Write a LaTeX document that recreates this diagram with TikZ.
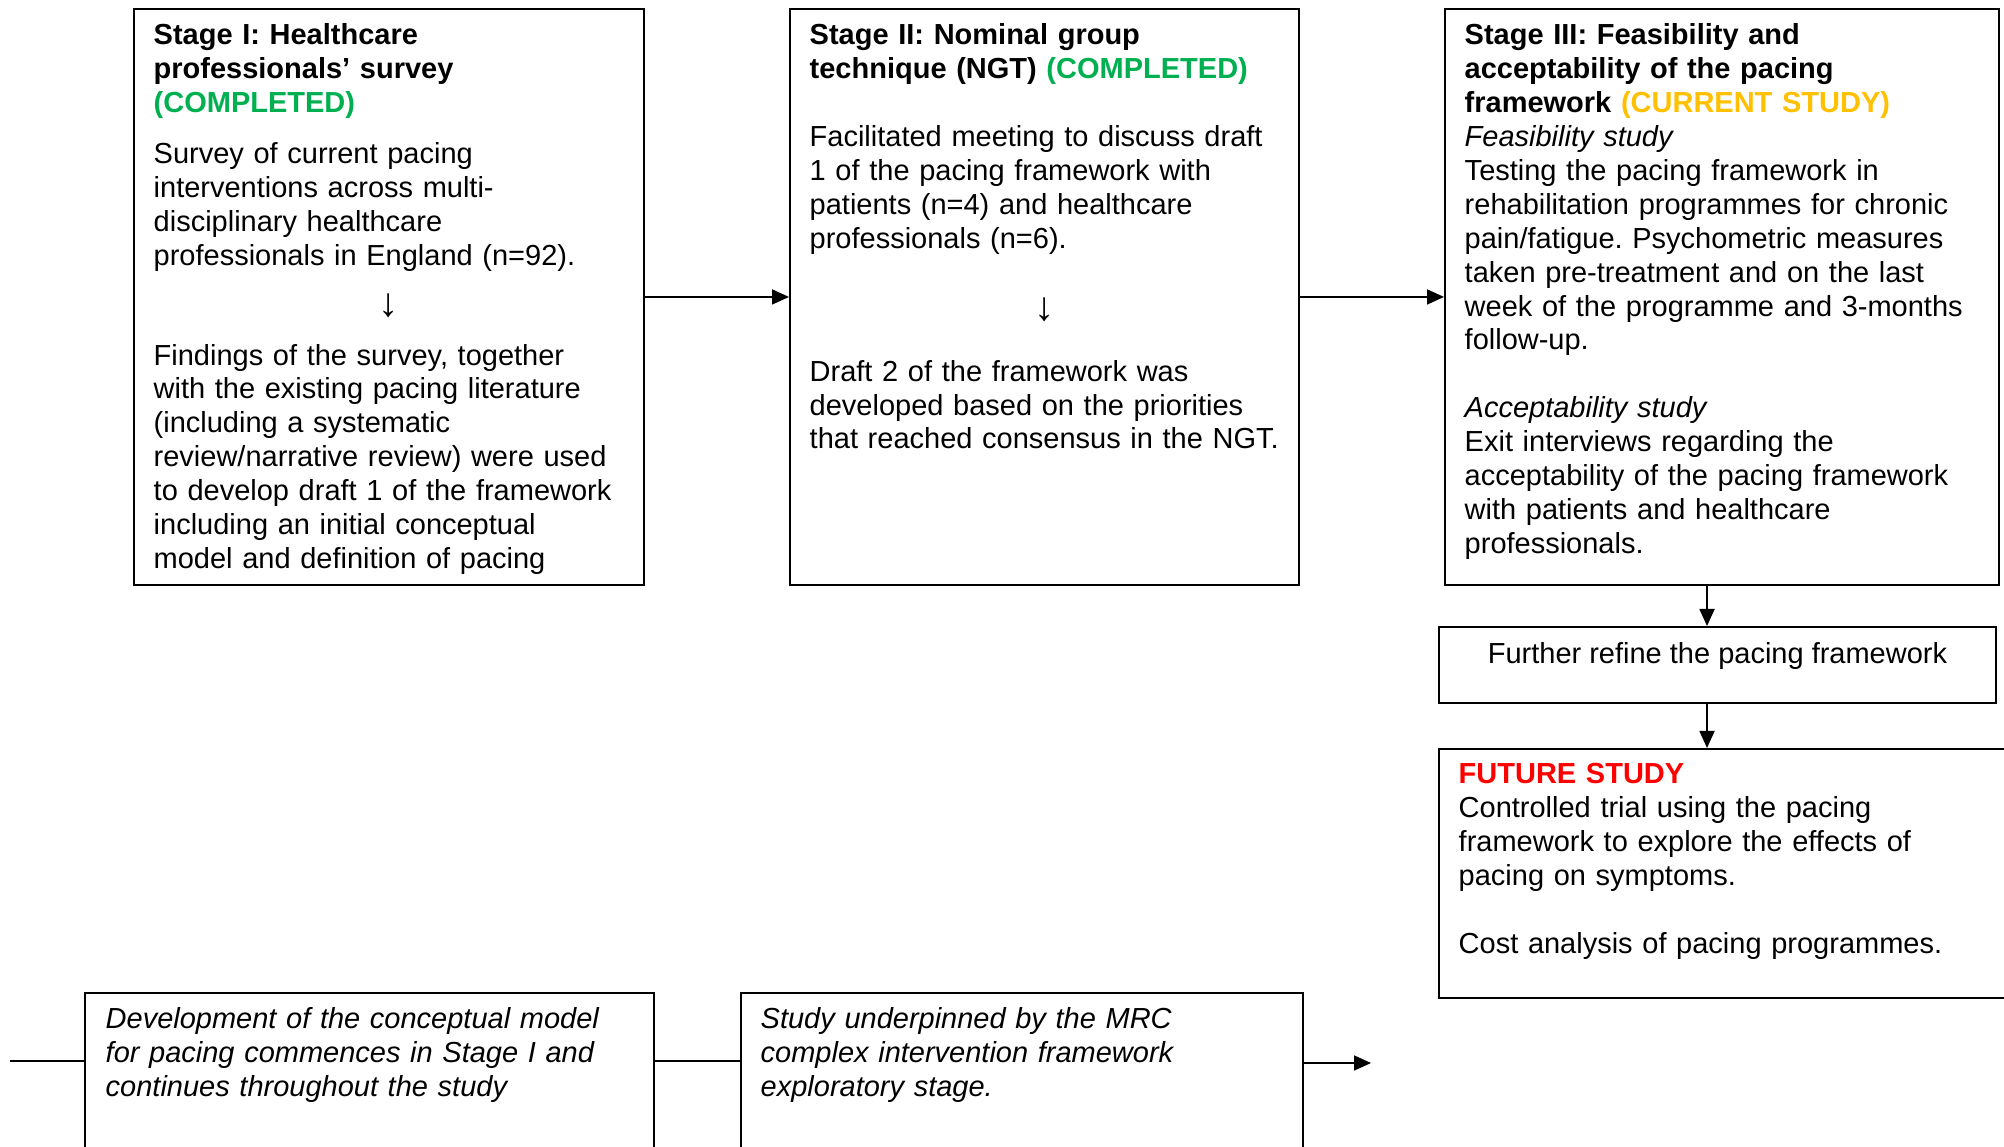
\documentclass[tikz,border=0pt]{standalone}
\usepackage{fontspec}
\setmainfont{Liberation Sans}
\usepackage{tikz}
\usetikzlibrary{arrows.meta,positioning}

\definecolor{done}{RGB}{0,176,80}
\definecolor{current}{RGB}{255,192,0}
\definecolor{future}{RGB}{255,0,0}

\begin{document}
\frenchspacing
\begin{tikzpicture}
\tikzstyle{box}=[draw,line width=0.55pt,anchor=north west,inner sep=0pt]
\tikzstyle{txt}=[anchor=north west,inner sep=0pt,font=\fontsize{8.25}{9.65}\selectfont]
\tikzstyle{arr}=[line width=0.5pt,-{Triangle[length=0.17cm,width=0.15cm]}]
\tikzstyle{plain}=[line width=0.5pt]
\useasboundingbox (0,0) rectangle (20.04,-11.47);
\clip (0,0) rectangle (20.04,-11.47);

% the three stages
\node [box,minimum width=5.10cm,minimum height=5.76cm] (s1) at (1.33,-0.08) {};
\node [box,minimum width=5.09cm,minimum height=5.76cm] (s2) at (7.89,-0.08) {};
\node [box,minimum width=5.54cm,minimum height=5.76cm] (s3) at (14.44,-0.08) {};

\node [txt,text width=4.70cm] (s1t) at ([shift={(0.20,-0.15)}]s1.north west) {\raggedright
    \textbf{Stage I: Healthcare\\ professionals’ survey\\ \textcolor{done}{(COMPLETED)}}\par\vspace{0.17cm}
    Survey of current pacing\\ interventions across multi-\\ disciplinary healthcare\\ professionals in England (n=92).\par\vspace{0.17cm}
    {\centering\fontsize{11.5}{9.65}\selectfont ↓\par}\vspace{0.15cm}
    Findings of the survey, together\\ with the existing pacing literature\\ (including a systematic\\ review/narrative review) were used\\ to develop draft 1 of the framework\\ including an initial conceptual\\ model and definition of pacing\par};
\node [txt,text width=4.69cm] (s2t) at ([shift={(0.20,-0.15)}]s2.north west) {\raggedright
    \textbf{Stage II: Nominal group\\ technique (NGT) \textcolor{done}{(COMPLETED)}}\par\vspace{0.34cm}
    Facilitated meeting to discuss draft\\ 1 of the pacing framework with\\ patients (n=4) and healthcare\\ professionals (n=6).\par\vspace{0.38cm}
    {\centering\fontsize{11.5}{9.65}\selectfont ↓\par}\vspace{0.27cm}
    Draft 2 of the framework was\\ developed based on the priorities\\ \mbox{that reached consensus in the NGT.}\par};
\node [txt,text width=5.14cm] (s3t) at ([shift={(0.20,-0.15)}]s3.north west) {\raggedright
    \textbf{Stage III: Feasibility and\\ acceptability of the pacing\\ framework \textcolor{current}{(CURRENT STUDY)}}\\
    \textit{Feasibility study}\\
    Testing the pacing framework in\\ rehabilitation programmes for chronic\\ pain/fatigue. Psychometric measures\\ taken pre-treatment and on the last\\ week of the programme and 3-months\\ follow-up.\par\vspace{0.34cm}
    \textit{Acceptability study}\\
    Exit interviews regarding the\\ acceptability of the pacing framework\\ with patients and healthcare\\ professionals.\par};

% refine and future study
\node [box,minimum width=5.57cm,minimum height=0.76cm] (refine) at (14.38,-6.26) {};
\node [box,minimum width=5.80cm,minimum height=2.49cm] (future) at (14.38,-7.48) {};
\node [txt,anchor=north] (refinet) at ([yshift=-0.16cm]refine.north) {Further refine the pacing framework};
\node [txt,text width=5.20cm] (futuret) at ([shift={(0.20,-0.15)}]future.north west) {\raggedright
    \textbf{\textcolor{future}{FUTURE STUDY}}\\
    Controlled trial using the pacing\\ framework to explore the effects of\\ pacing on symptoms.\par\vspace{0.34cm}
    Cost analysis of pacing programmes.\par};

% bottom notes
\node [box,minimum width=5.69cm,minimum height=2.00cm] (model) at (0.84,-9.92) {};
\node [box,minimum width=5.62cm,minimum height=2.00cm] (mrc) at (7.40,-9.92) {};
\node [txt,text width=5.20cm] (modelt) at ([shift={(0.21,-0.15)}]model.north west) {\raggedright\itshape
    Development of the conceptual model\\ for pacing commences in Stage I and\\ continues throughout the study\par};
\node [txt,text width=5.20cm] (mrct) at ([shift={(0.20,-0.15)}]mrc.north west) {\raggedright\itshape
    Study underpinned by the MRC\\ complex intervention framework\\ exploratory stage.\par};

% connectors
\coordinate (down) at (17.07,0);
\coordinate (lstart) at (0.10,-10.61);
\coordinate (aend) at (13.71,-10.63);
\draw [arr] (s1) -- (s2);
\draw [arr] (s2) -- (s3);
\draw [arr] (s3.south -| down) -- (refine.north -| down);
\draw [arr] (refine.south -| down) -- (future.north -| down);
\draw [plain] (lstart) -- (lstart -| model.west);
\draw [plain] (lstart -| model.east) -- (lstart -| mrc.west);
\draw [arr] (aend -| mrc.east) -- (aend);
\end{tikzpicture}
\end{document}
